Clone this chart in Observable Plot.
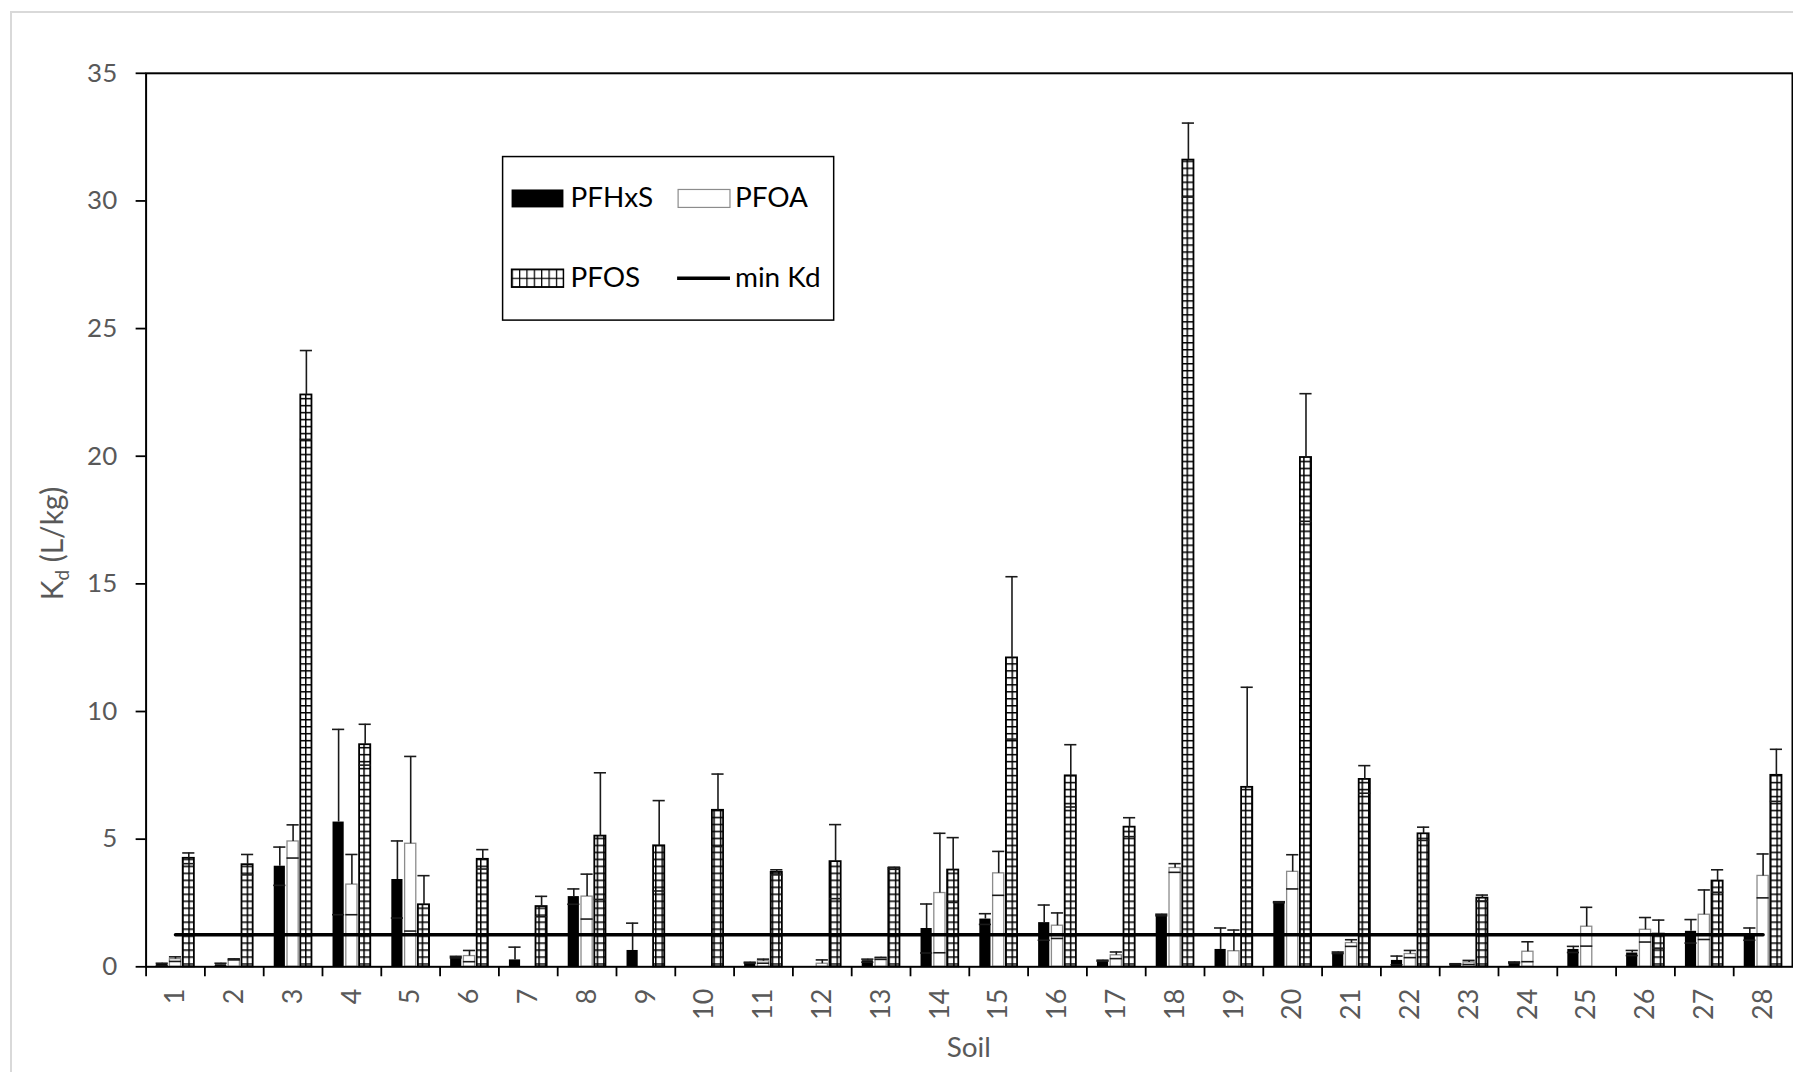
<!DOCTYPE html>
<html>
<head>
<meta charset="utf-8">
<script src="https://cdn.jsdelivr.net/npm/d3@7"></script>
<script src="https://cdn.jsdelivr.net/npm/@observablehq/plot@0.6"></script>
<style>
  html, body { margin: 0; padding: 0; background: #fff; overflow: hidden; width: 1793px; height: 1072px; }
  #border { position: absolute; left: 10px; top: 11px; width: 2000px; height: 1200px; border: 2px solid #d9d9d9; box-sizing: border-box; }
  #chart { position: absolute; left: 0; top: 0; }
</style>
</head>
<body>
<div id="border"></div>
<div id="chart"></div>
<script>
const soils = ["1","2","3","4","5","6","7","8","9","10","11","12","13","14","15","16","17","18","19","20","21","22","23","24","25","26","27","28"];

const pfhxs    = [0.10,0.08,3.94,5.67,3.42,0.38,0.27,2.75,0.64,null,0.16,null,0.24,1.50,1.87,1.73,0.24,2.03,0.68,2.53,0.55,0.25,0.10,0.17,0.68,0.54,1.39,1.28];
const pfhxsErr = [0.04,0.06,0.75,3.63,1.51,0.03,0.50,0.30,1.07,null,0.02,null,0.06,0.96,0.21,0.69,0.02,0.03,0.84,0.02,0.03,0.17,0.02,0.02,0.12,0.10,0.46,0.24];

const pfoa     = [0.30,0.29,4.91,3.22,4.82,0.42,null,2.75,null,null,0.22,0.12,0.33,2.89,3.66,1.61,0.45,3.87,0.61,3.72,0.93,0.50,0.17,0.59,1.57,1.45,2.04,3.56];
const pfoaErr  = [0.09,0.02,0.65,1.18,3.42,0.22,null,0.88,null,null,0.08,0.15,0.04,2.34,0.86,0.50,0.13,0.17,0.83,0.67,0.13,0.14,0.08,0.39,0.76,0.48,0.97,0.86];

const pfos     = [4.25,4.00,22.40,8.70,2.43,4.21,2.36,5.12,4.74,6.13,3.70,4.12,3.86,3.79,12.10,7.48,5.47,31.60,7.03,19.95,7.34,5.21,2.69,null,null,1.28,3.36,7.50];
const pfosErr  = [0.21,0.40,1.74,0.80,1.14,0.38,0.40,2.48,1.77,1.42,0.10,1.45,0.04,1.27,3.18,1.22,0.37,1.45,3.92,2.50,0.54,0.26,0.12,null,null,0.55,0.44,1.02];

const minKd = 1.26;
const yTicks = [0,5,10,15,20,25,30,35];

function table(vals, errs) {
  return soils.map((s, i) => ({soil: s, value: vals[i], err: errs[i]}))
    .filter(d => d.value != null)
    .map(d => ({...d, hi: d.value + (d.err || 0), lo: d.value - (d.err || 0)}));
}
const tHx = table(pfhxs, pfhxsErr);
const tOA = table(pfoa, pfoaErr);
const tOS = table(pfos, pfosErr);
const minLine = soils.map(s => ({soil: s, y: minKd}));

const W = 1798, H = 1072, ML = 146, MR = 1, MT = 73, MB = 103;
const step = (W - ML - MR) / soils.length;
const barW = step * 0.19;
const shift = step * 0.226;
const inset = (step - barW) / 2;

const errStroke = "#1a1a1a";
function errMarks(t, dx) {
  return [
    Plot.ruleX(t, {x: "soil", y1: "value", y2: "hi", dx, stroke: errStroke, strokeWidth: 1.6}),
    Plot.tickY(t, {x: "soil", y: "hi", dx, insetLeft: inset - 0.5, insetRight: inset - 0.5, stroke: errStroke, strokeWidth: 1.6}),
    Plot.tickY(t.filter(d => d.lo > 0), {x: "soil", y: "lo", dx, insetLeft: inset - 0.5, insetRight: inset - 0.5, stroke: errStroke, strokeWidth: 1.6})
  ];
}

const chart = Plot.plot({
  width: W, height: H,
  marginLeft: ML, marginRight: MR, marginTop: MT, marginBottom: MB,
  x: {type: "band", domain: soils, padding: 0, round: false, axis: null},
  y: {domain: [0, 35], axis: null},
  style: {fontFamily: "Lato, 'Open Sans', sans-serif", background: "transparent", overflow: "visible"},
  marks: [
    Plot.barY(tHx, {x: "soil", y: "value", dx: -shift, insetLeft: inset, insetRight: inset, fill: "black"}),
    Plot.barY(tOA, {x: "soil", y: "value", dx: 0, insetLeft: inset, insetRight: inset, fill: "white", stroke: "#8c8c8c", strokeWidth: 1.3}),
    Plot.barY(tOS, {x: "soil", y: "value", dx: shift, insetLeft: inset, insetRight: inset, fill: "url(#pfosGrid)", stroke: "black", strokeWidth: 1.8}),
    ...errMarks(tHx, -shift),
    ...errMarks(tOA, 0),
    ...errMarks(tOS, shift),
    Plot.lineY(minLine, {x: "soil", y: "y", stroke: "black", strokeWidth: 3.5}),
    Plot.frame({stroke: "black", strokeWidth: 2}),
    Plot.axisY({ticks: yTicks, tickSize: 10, tickPadding: 19, fontSize: 26, fill: "#595959", stroke: "black", strokeWidth: 1.8, label: null}),
    Plot.axisX({tickSize: 10, tickFormat: () => "", dx: -step / 2, stroke: "black", strokeWidth: 1.8, label: null}),
    Plot.axisX({tickSize: 0, tickPadding: 22, tickRotate: -90, fontSize: 27, fill: "#595959", label: null})
  ]
});

document.getElementById("chart").appendChild(chart);

const svg = d3.select(chart);
const defs = svg.insert("defs", ":first-child");
const pat = defs.append("pattern").attr("id", "pfosGrid").attr("patternUnits", "userSpaceOnUse")
  .attr("width", 6.5).attr("height", 7);
pat.append("rect").attr("width", 6.5).attr("height", 7).attr("fill", "white");
pat.append("path").attr("d", "M0,0.75H6.5M0.75,0V7").attr("stroke", "black").attr("stroke-width", 1.5);

const patL = defs.append("pattern").attr("id", "pfosGridL").attr("patternUnits", "userSpaceOnUse")
  .attr("width", 7.4).attr("height", 8.5).attr("x", 513).attr("y", 270);
patL.append("rect").attr("width", 7.4).attr("height", 8.5).attr("fill", "white");
patL.append("path").attr("d", "M0,0.6H7.4M0.6,0V8.5").attr("stroke", "black").attr("stroke-width", 1.3);

// y axis title with subscript
const yl = svg.append("text")
  .attr("transform", "translate(63,545) rotate(-90)")
  .attr("text-anchor", "middle")
  .attr("fill", "#595959")
  .attr("font-size", 30)
  .attr("font-family", "Lato, sans-serif");
yl.append("tspan").text("K");
yl.append("tspan").attr("font-size", 19).attr("dy", 6).text("d");
yl.append("tspan").attr("dy", -6).text(" (L/kg)");

// x axis title
svg.append("text")
  .attr("x", (ML + W - MR) / 2).attr("y", 1060)
  .attr("text-anchor", "middle")
  .attr("fill", "#595959")
  .attr("font-size", 28)
  .attr("font-family", "Lato, sans-serif")
  .text("Soil");

// legend
const lg = svg.append("g").attr("font-family", "Lato, sans-serif").attr("font-size", 28)
  .attr("fill", "black").attr("text-anchor", "start");
lg.append("rect").attr("x", 504).attr("y", 157).attr("width", 332).attr("height", 164)
  .attr("fill", "white").attr("stroke", "black").attr("stroke-width", 1.5);
lg.append("rect").attr("x", 513).attr("y", 190).attr("width", 52).attr("height", 18).attr("fill", "black");
lg.append("text").attr("x", 572).attr("y", 208).attr("text-anchor", "start").text("PFHxS");
lg.append("rect").attr("x", 680).attr("y", 190).attr("width", 52).attr("height", 18)
  .attr("fill", "white").attr("stroke", "#8c8c8c").attr("stroke-width", 1.2);
lg.append("text").attr("x", 737).attr("y", 208).attr("text-anchor", "start").text("PFOA");
lg.append("rect").attr("x", 513).attr("y", 270).attr("width", 52).attr("height", 18)
  .attr("fill", "url(#pfosGridL)").attr("stroke", "black").attr("stroke-width", 1.5);
lg.append("text").attr("x", 572).attr("y", 288).attr("text-anchor", "start").text("PFOS");
lg.append("line").attr("x1", 679).attr("x2", 732).attr("y1", 279).attr("y2", 279)
  .attr("stroke", "black").attr("stroke-width", 3.5);
lg.append("text").attr("x", 737).attr("y", 288).attr("text-anchor", "start").text("min Kd");
</script>
</body>
</html>
